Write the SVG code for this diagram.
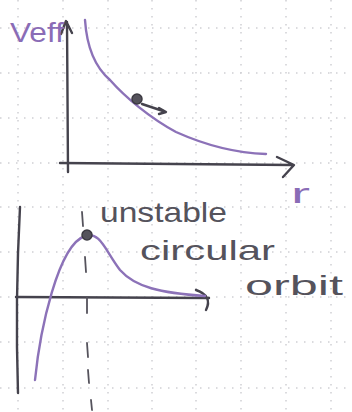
<svg xmlns="http://www.w3.org/2000/svg" width="352" height="412" viewBox="0 0 352 412">
<style>
.grid{stroke:#d0d0d4;stroke-width:1.5;stroke-dasharray:1.5 6.5;fill:none}
.ax{stroke:#45434d;stroke-width:2.4;fill:none;stroke-linecap:round;stroke-linejoin:round}
.cur{stroke:#8c72b8;stroke-width:2.4;fill:none;stroke-linecap:round}
.dash{stroke:#55535c;stroke-width:1.8;fill:none;stroke-linecap:round}
.ball{fill:#55535c;stroke:#3c3a42;stroke-width:1.5}
.t{font-family:"Liberation Sans",Arial,sans-serif;font-size:28px;fill:#55535c}
.p{fill:#8a6cb6}
</style>
<rect width="352" height="412" fill="#ffffff"/>
<g id="grid">
<path class="grid" d="M18,0V412M63,0V412M108,0V412M152,0V412M196,0V412M241,0V412M286,0V412M331,0V412"/>
<path class="grid" d="M0,28H352M0,73H352M0,118H352M0,163H352M0,207H352M0,252H352M0,297H352M0,342H352M0,388H352"/>
</g>
<g id="top-plot">
<g id="top-y-axis"><path class="ax" d="M68,172 L67,22 M61,34 L66,21 L72,33"/></g>
<g id="top-x-axis"><path class="ax" d="M60,163 L293,165 M277,157 L294,165 L283,177"/></g>
<g id="top-curve"><path class="cur" d="M85,20 C87,50 96,68 110,80 C125,97 150,118 176,132 C205,145 235,153 266,154"/></g>
<g id="top-ball"><circle class="ball" cx="137" cy="99" r="5"/><path class="ax" d="M142,104 L163,111" stroke-width="2"/><path class="ax" d="M159,108 L166,112 L159,114" stroke-width="2.2"/></g>
<text class="t p" x="10" y="42" textLength="54" lengthAdjust="spacingAndGlyphs">Veff</text>
<text class="t p" x="291" y="203" font-size="31" textLength="19" lengthAdjust="spacingAndGlyphs">r</text>
</g>
<g id="bottom-plot">
<g id="bottom-y-axis"><path class="ax" d="M20,207 Q15,300 18,393"/></g>
<g id="bottom-x-axis"><path class="ax" d="M16,297 L209,298 M196,290 Q213,296 206,310"/></g>
<g id="bottom-curve"><path class="cur" d="M35,380 C40,330 58,245 85,236 C100,231 105,250 120,270 C135,287 160,293 205,296"/></g>
<g id="connectors"><path class="dash" d="M82,212 L83,226 M85,257 L86,272 M87,297 L87,313 M87,343 L88,357 M88,370 L89,383 M91,400 L92,410"/></g>
<g id="peak-ball"><circle class="ball" cx="87" cy="235" r="5"/></g>
<text class="t" x="100" y="222" textLength="127" lengthAdjust="spacingAndGlyphs">unstable</text>
<text class="t" x="140" y="260" textLength="135" lengthAdjust="spacingAndGlyphs">circular</text>
<text class="t" x="245" y="295" textLength="98" lengthAdjust="spacingAndGlyphs">orbit</text>
</g>
</svg>
